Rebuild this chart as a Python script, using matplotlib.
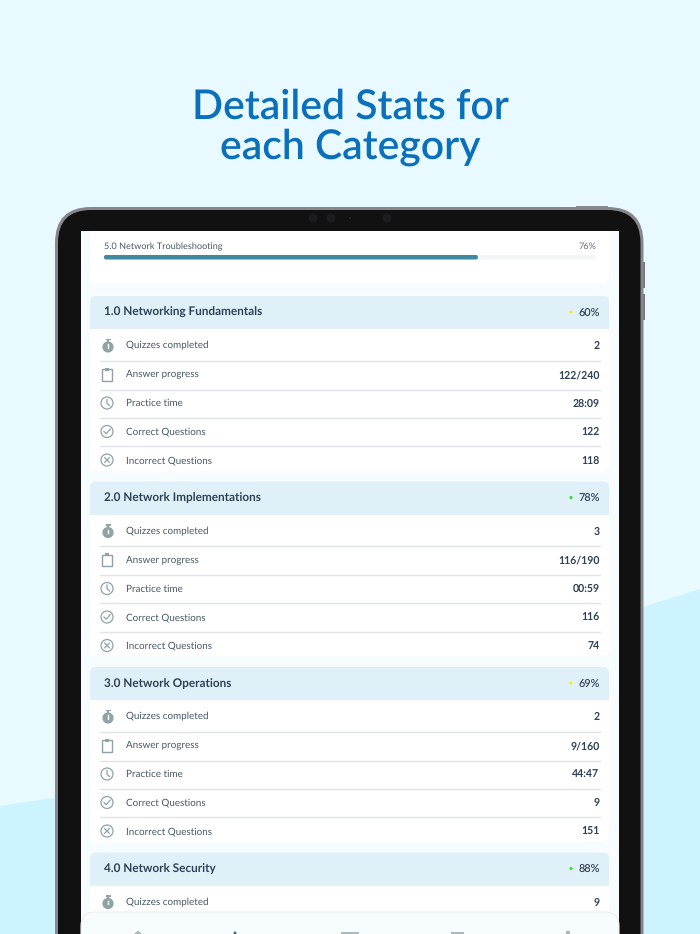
import matplotlib
matplotlib.use("Agg")
import matplotlib.pyplot as plt
from matplotlib.patches import FancyBboxPatch, Rectangle, Circle, Polygon

plt.rcParams['font.family'] = ['Lato', 'DejaVu Sans']
plt.rcParams['text.hinting'] = 'no_hinting'
plt.rcParams['text.hinting_factor'] = 8

title_lines = ["Detailed Stats for", "each Category"]
summary_label = "5.0 Network Troubleshooting"
summary_pct = 76
categories = ["1.0 Networking Fundamentals", "2.0 Network Implementations",
              "3.0 Network Operations", "4.0 Network Security"]
category_pct = [60, 78, 69, 88]
dot_colors = ["#F2F200", "#22DD22", "#F2F200", "#11EE11"]
row_labels = ["Quizzes completed", "Answer progress", "Practice time",
              "Correct Questions", "Incorrect Questions"]
row_values = [["2", "122/240", "28:09", "122", "118"],
              ["3", "116/190", "00:59", "116", "74"],
              ["2", "9/160", "44:47", "9", "151"],
              ["9"]]

W, H = 700, 934
DARK = "#2F4155"
GREY = "#475864"
ICON = "#8FA3A6"
TAB = "#AAB9BC"

fig = plt.figure(figsize=(W / 100, H / 100), dpi=100)
ax = fig.add_axes([0, 0, 1, 1])
ax.set_xlim(0, W)
ax.set_ylim(H, 0)
ax.axis("off")


def rbox(x0, y0, x1, y1, r, fc, ec="none", lw=0, z=1):
    p = FancyBboxPatch((x0 + r, y0 + r), x1 - x0 - 2 * r, y1 - y0 - 2 * r,
                       boxstyle=f"round,pad={r},rounding_size={r}",
                       fc=fc, ec=ec, lw=lw, zorder=z)
    ax.add_patch(p)
    return p


# page background and waves
ax.add_patch(Rectangle((0, 0), W, H, fc="#E8F9FF", ec="none", zorder=0))
ax.add_patch(Polygon([(0, 806), (60, 797), (60, H), (0, H)], fc="#CDF3FF", ec="none", zorder=0.5))
ax.add_patch(Polygon([(640, 608), (W, 589), (W, H), (640, H)], fc="#CDF3FF", ec="none", zorder=0.5))

# title
for line, y in zip(title_lines, [106.5, 147.5]):
    ax.text(350.5, y, line, ha="center", va="center", fontsize=29.4, fontweight="semibold",
            color="#0A70BC", zorder=5)

# device
for bx, by, bh in [(642, 262, 26), (642, 294, 26)]:
    ax.add_patch(Rectangle((bx, by), 3, bh, fc="#77797C", ec="none", zorder=1))
ax.add_patch(Rectangle((576, 205.5), 32, 3, fc="#8A8C90", ec="none", zorder=1))
rbox(55, 207, 643.5, 1050, 36, "#85878B", z=2)
rbox(58, 210, 640.5, 1050, 33, "#111111", z=2.1)
for cx, r in [(313, 4.5), (331, 4.5), (387, 4.5)]:
    ax.add_patch(Circle((cx, 218), r, fc="#1C1C1F", ec="none", zorder=2.2))
ax.add_patch(Circle((350, 218), 0.8, fc="#333338", ec="none", zorder=2.2))

# screen
ax.add_patch(Rectangle((81, 231), 538, 720, fc="#F6FCFF", ec="none", zorder=3))
clip = Rectangle((81, 231), 538, 720, transform=ax.transData)

# summary card
c = rbox(90, 200, 609, 283, 7, "white", z=3.1)
c.set_clip_path(clip)
ax.text(104, 246.5, summary_label, ha="left", va="center", fontsize=6.55, color=GREY, zorder=4)
ax.text(596, 246.5, f"{summary_pct}%", ha="right", va="center", fontsize=6.55, color="#66707A", zorder=4)
rbox(104, 255, 596, 259.5, 2, "#F3F5F6", z=3.2)
x_end = 104 + (596 - 104) * summary_pct / 100
rbox(104, 255, x_end, 259.5, 2, "#3F8AA0", z=3.3)


def icon_timer(x, y):
    ax.add_patch(Circle((x, y + 1.5), 5.6, fc=ICON, ec="none", zorder=4))
    ax.add_patch(Rectangle((x - 2.5, y - 7), 5, 1.5, fc=ICON, ec="none", zorder=4))
    ax.add_patch(Rectangle((x - 0.8, y - 6), 1.6, 3, fc=ICON, ec="none", zorder=4))
    ax.plot([x, x], [y - 1.5, y + 2], color="white", lw=1, zorder=4.1)


def icon_clip(x, y):
    ax.add_patch(Rectangle((x - 5, y - 5.5), 10, 11.5, fc="white", ec=ICON, lw=1.0, zorder=4))
    ax.add_patch(Rectangle((x - 2, y - 7), 4, 3, fc=ICON, ec="none", zorder=4.1))


def ring(x, y):
    ax.add_patch(Circle((x, y), 6, fc="white", ec=ICON, lw=0.9, zorder=4))


def icon_clock(x, y):
    ring(x, y)
    ax.plot([x, x, x + 2.5], [y - 3.5, y + 0.3, y + 2.5], color=ICON, lw=0.9, zorder=4.1)


def icon_check(x, y):
    ring(x, y)
    ax.plot([x - 3, x - 0.8, x + 3.2], [y, y + 2.2, y - 2.4], color=ICON, lw=0.9, zorder=4.1)


def icon_cross(x, y):
    ring(x, y)
    ax.plot([x - 2.3, x + 2.3], [y - 2.3, y + 2.3], color=ICON, lw=0.9, zorder=4.1)
    ax.plot([x - 2.3, x + 2.3], [y + 2.3, y - 2.3], color=ICON, lw=0.9, zorder=4.1)


icons = [icon_timer, icon_clip, icon_clock, icon_check, icon_cross]
section_tops = [296, 481.5, 667, 852.5]
row_offsets = [49.5, 78.5, 107, 135.5, 164]
sep_offsets = [64.5, 93.5, 121.5, 150]

for top, cat, pct, dot, vals in zip(section_tops, categories, category_pct, dot_colors, row_values):
    if len(vals) == 5:
        rbox(90, top + 20, 609, top + 175, 7, "white", z=3.1)
    else:
        ax.add_patch(Rectangle((90, top + 20), 519, 60, fc="white", ec="none", zorder=3.1))
    rbox(90, top, 609, top + 24, 6, "#E0F0F8", z=3.2)
    ax.add_patch(Rectangle((90, top + 12), 519, 21, fc="#E0F0F8", ec="none", zorder=3.2))
    ax.text(103.5, top + 16.4, cat, ha="left", va="center", fontsize=8.5, fontweight="bold",
            color=DARK, zorder=4)
    ax.text(599.5, top + 16.6, f"{pct}%", ha="right", va="center", fontsize=7.8, fontweight="semibold",
            color=DARK, zorder=4)
    ax.add_patch(Circle((571, top + 16), 1.5, fc=dot, ec="none", zorder=4))
    for i, val in enumerate(vals):
        y = top + row_offsets[i]
        icons[i](107 if i else 108, y)
        ax.text(126.5, y + 0.4, row_labels[i], ha="left", va="center", fontsize=7.1, color=GREY, zorder=4)
        ax.text(599.5, y + 0.4, val, ha="right", va="center", fontsize=7.6, fontweight="bold", color=DARK, zorder=4)
        if i < len(vals) - 1:
            ax.plot([100, 600], [top + sep_offsets[i]] * 2, color="#E0E6E8", lw=1, zorder=3.5)

# tab bar
rbox(81, 912, 619, 990, 14, "#F7FCFF", ec="#ECEFF1", lw=0.8, z=4.5)
ax.add_patch(Polygon([(134, 934), (138, 930.5), (142, 934)], fc=TAB, ec="none", zorder=4.6))
ax.add_patch(Circle((235, 933), 1.5, fc="#4A6A80", ec="none", zorder=4.6))
ax.add_patch(Rectangle((341, 931.5), 18, 3, fc=TAB, ec="none", zorder=4.6))
ax.add_patch(Rectangle((451, 931.5), 13, 3, fc=TAB, ec="none", zorder=4.6))
ax.add_patch(Rectangle((566, 930.5), 4, 4, fc=TAB, ec="none", zorder=4.6))

fig.savefig("out.png", dpi=100)
